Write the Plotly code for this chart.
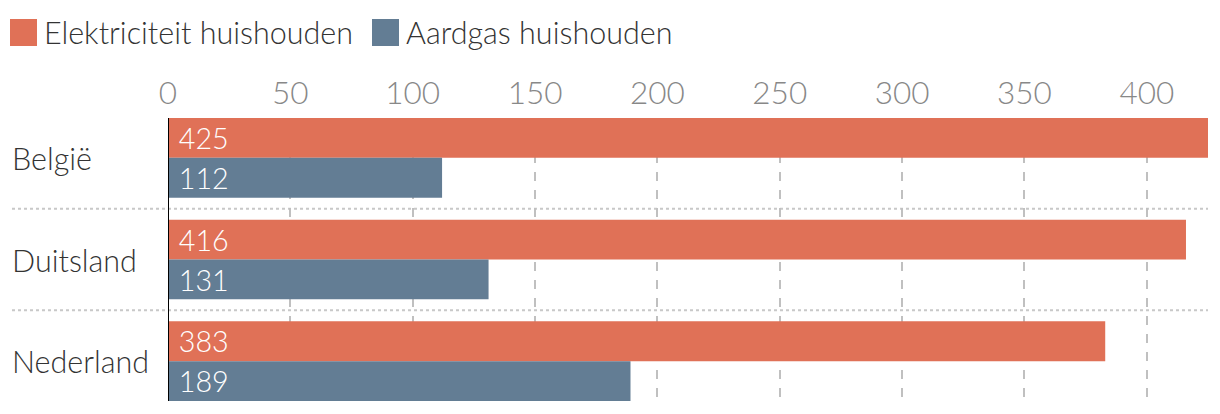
import plotly.graph_objects as go

categories = ["België", "Duitsland", "Nederland"]
series_names = ["Elektriciteit huishouden", "Aardgas huishouden"]
elektriciteit = [425, 416, 383]
aardgas = [112, 131, 189]
tick_vals = [0, 50, 100, 150, 200, 250, 300, 350, 400]

colors = ["#E07157", "#637D94"]
FONT = "Lato, 'Open Sans', sans-serif"
FS = 30.5
TFS = 31.5
WEIGHT = 300

W, H = 1220, 414
ML, MR, MT, MB = 168, 12, 118, 13
PW, PH = W - ML - MR, H - MT - MB

fig = go.Figure()
for name, vals, col in zip(series_names, [elektriciteit, aardgas], colors):
    fig.add_trace(go.Bar(
        y=categories, x=vals, name=name, orientation="h",
        marker=dict(color=col, line=dict(width=0)),
        text=vals, texttemplate=" %{x}", textposition="inside",
        insidetextanchor="start",
        textfont=dict(color="white", size=FS, family=FONT, weight=WEIGHT),
        showlegend=False,
    ))

shapes = []
# category separators (dotted)
for i in range(len(categories) - 1):
    shapes.append(dict(type="line", xref="paper", yref="y",
                       x0=(12 - ML) / PW, x1=1, y0=i + 0.5, y1=i + 0.5,
                       line=dict(color="#c8c8c8", width=2, dash="dot"), layer="below"))
# zero axis line
shapes.append(dict(type="line", xref="x", yref="paper", x0=0, x1=0, y0=0, y1=1,
                   line=dict(color="black", width=2), layer="above"))

annotations = []
# category labels (left aligned)
for c in categories:
    annotations.append(dict(text=c, xref="paper", yref="y", x=(10 - ML) / PW, y=c,
                            xanchor="left", yanchor="middle", showarrow=False,
                            font=dict(size=FS, color="#333333", family=FONT, weight=WEIGHT)))

# manual legend
legend_items = [(10, 42), (372, 404)]
for (sx, tx), name, col in zip(legend_items, series_names, colors):
    shapes.append(dict(type="rect", xref="paper", yref="paper",
                       x0=(sx - ML) / PW, x1=(sx + 27 - ML) / PW,
                       y0=1 + (MT - 46) / PH, y1=1 + (MT - 19) / PH,
                       fillcolor=col, line=dict(width=0)))
    annotations.append(dict(text=name, xref="paper", yref="paper",
                            x=(tx - ML) / PW, y=1 + (MT - 32) / PH,
                            xanchor="left", yanchor="middle", showarrow=False,
                            font=dict(size=FS, color="#333333", family=FONT, weight=WEIGHT)))

fig.update_layout(
    width=W, height=H,
    margin=dict(l=ML, r=MR, t=MT, b=MB, pad=0),
    paper_bgcolor="white", plot_bgcolor="white",
    barmode="group", bargap=22 / 102, bargroupgap=0,
    font=dict(family=FONT),
    shapes=shapes, annotations=annotations,
    showlegend=False,
    xaxis=dict(side="top", range=[0, 425], tickvals=tick_vals,
               showgrid=True, gridcolor="#c0c0c0", gridwidth=2, griddash="dash",
               zeroline=False, showline=False, ticks="", ticklabelstandoff=7,
               tickfont=dict(size=TFS, color="#888888", family=FONT, weight=WEIGHT)),
    yaxis=dict(range=[2 + 40 / 102, -40 / 102], showticklabels=False,
               showgrid=False, zeroline=False, showline=False, ticks=""),
)

fig.write_html("out.html")
